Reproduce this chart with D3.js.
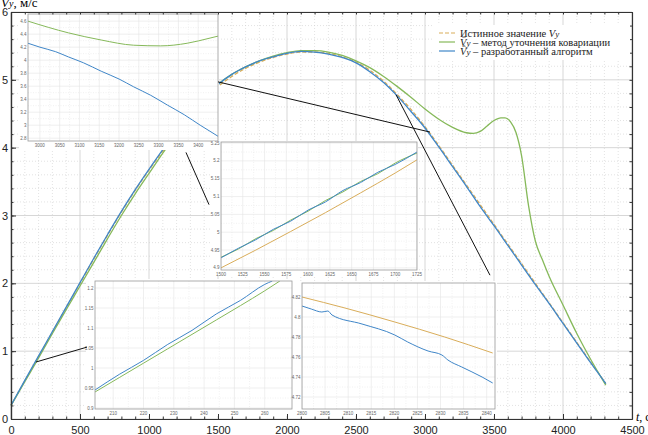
<!DOCTYPE html>
<html>
<head>
<meta charset="UTF-8">
<title>Vy</title>
<style>
  body { margin: 0; background: #fff; }
  svg { display: block; font-family: 'Liberation Sans', Arial, sans-serif; }
  .grid-major line { stroke: #cdcdcd; stroke-width: 0.8; }
  .grid-minor line { stroke: #cfcfcf; stroke-width: 0.6; stroke-dasharray: 1,2; }
  .axis path, .axis line { stroke: #333; }
  .axis text { font-size: 11px; fill: #222; }
  .inset text { font-size: 4.5px; fill: #666; }
  .legend text { font-family: 'Liberation Serif', serif; font-size: 10.5px; fill: #222; }
  .connector { stroke: #111; stroke-width: 1; }
</style>
</head>
<body>
<script src="https://cdnjs.cloudflare.com/ajax/libs/d3/7.8.5/d3.min.js"></script>
<script>
/// data (main plot)
var tMain = [0,100,200,300,400,500,600,700,800,900,1000,1100,1200,1300,1400,1500,1600,1700,1800,1900,2000,
             2100,2200,2300,2400,2500,2600,2700,2800,2900,3000,3100,3200,3300,3400,3500,3600,3700,3800,3900,
             4000,4100,4200,4300,4310];
var vTrue = [0.20,0.56,0.92,1.28,1.64,2.00,2.36,2.71,3.05,3.37,3.67,3.95,4.22,4.47,4.70,4.90,5.05,5.17,5.26,5.33,5.38,
             5.41,5.41,5.39,5.34,5.26,5.14,4.98,4.78,4.56,4.31,4.03,3.74,3.45,3.16,2.87,2.58,2.29,2.00,1.71,
             1.42,1.13,0.84,0.55,0.52];
var vBlue = [0.20,0.57,0.93,1.29,1.65,2.01,2.37,2.72,3.06,3.38,3.68,3.97,4.24,4.49,4.72,4.93,5.08,5.19,5.28,5.34,5.39,
             5.42,5.41,5.38,5.33,5.25,5.12,4.96,4.76,4.53,4.29,4.01,3.72,3.43,3.13,2.85,2.56,2.27,1.98,1.70,
             1.41,1.12,0.83,0.55,0.52];
var tGreen = [0,100,200,300,400,500,600,700,800,900,1000,1100,1200,1300,1400,1500,1600,1700,1800,1900,2000,
              2100,2200,2300,2400,2500,2600,2700,2800,2900,3000,3100,3200,3300,3350,3400,3450,3500,3550,3580,
              3620,3660,3700,3750,3800,3850,3900,4000,4100,4200,4310];
var vGreen = [0.20,0.55,0.90,1.26,1.61,1.96,2.31,2.66,3.00,3.32,3.62,3.92,4.20,4.46,4.70,4.93,5.08,5.19,5.28,5.35,5.40,
              5.43,5.43,5.41,5.36,5.28,5.18,5.05,4.90,4.74,4.57,4.42,4.30,4.22,4.21,4.24,4.32,4.40,4.44,4.44,
              4.38,4.22,3.88,3.15,2.62,2.35,2.10,1.68,1.26,0.88,0.50];

var xTickLabels = [0,500,1000,1500,2000,2500,3000,3500,4000,4500];
var yTickLabels = [0,1,2,3,4,5,6];

// connector lines, main-plot units [t1, v1, t2, v2]
var connectors = [[181,0.84,551,1.06],[1268,3.93,1435,3.16],[1500,4.97,3036,4.23],[2790,4.78,3471,2.12]];

/// data (insets)
var aTicksX = [3000,3050,3100,3150,3200,3250,3300,3350,3400];
var aTicksY = [2.8,3,3.2,3.4,3.6,3.8,4,4.2,4.4,4.6];
var aTGreen = [2970,3072,3155,3237,3305,3372,3430,3450];
var aVGreen = [4.60,4.42,4.31,4.23,4.22,4.26,4.34,4.37];
var aTBlue = [2970,3000,3040,3072,3110,3155,3200,3237,3280,3322,3365,3405,3450];
var aVBlue = [4.26,4.20,4.13,4.05,3.96,3.83,3.71,3.59,3.46,3.31,3.16,3.00,2.83];

var bTicksX = [1500,1525,1550,1575,1600,1625,1650,1675,1700,1725];
var bTicksY = [4.9,4.95,5,5.05,5.1,5.15,5.2,5.25];
var bTTrue = [1500,1540,1580,1620,1660,1700,1725];
var bVTrue = [4.900,4.950,5.002,5.055,5.110,5.166,5.203];
var bTBlue = [1500,1520,1540,1560,1580,1600,1620,1640,1660,1680,1700,1725];
var bVBlue = [4.928,4.955,4.979,5.008,5.031,5.062,5.085,5.117,5.139,5.168,5.190,5.225];
var bVGreen = [4.930,4.953,4.982,5.005,5.034,5.059,5.089,5.113,5.142,5.164,5.194,5.222];

var cTicksX = [210,220,230,240,250,260];
var cTicksY = [0.9,0.95,1,1.05,1.1,1.15,1.2];
var cTBlue = [204,212,220,228,236,244,252,260,262.5];
var cVBlue = [0.945,0.984,1.019,1.059,1.094,1.135,1.169,1.209,1.2175];
var cTGreen = [204,212,220,228,236,244,252,260,265];
var cVGreen = [0.940,0.976,1.012,1.048,1.084,1.120,1.156,1.193,1.2175];

var dTicksX = [2800,2805,2810,2815,2820,2825,2830,2835,2840];
var dTicksY = [4.72,4.74,4.76,4.78,4.8,4.82];
var dTTrue = [2800,2809.3,2820.1,2830.9,2841.3];
var dVTrue = [4.820,4.809,4.795,4.780,4.764];
var dTBlue = [2800,2802,2804.3,2805.6,2806.5,2813,2820.1,2822.9,2827.3,2830.3,2831.6,2834.6,2839,2841.3];
var dVBlue = [4.811,4.808,4.805,4.806,4.802,4.793,4.782,4.775,4.766,4.762,4.757,4.750,4.740,4.734];

/// style
var cTrue = "#d9ad5a", cGreen = "#86b95a", cBlue = "#3f86c8";

function zip(t, v) { return t.map(function(d, i) { return [d, v[i]]; }); }

/// main
var svg = d3.select("body").append("svg").attr("width", 648).attr("height", 435);

var x = d3.scaleLinear().domain([0, 4500]).range([11, 632]);
var y = d3.scaleLinear().domain([0, 6]).range([419, 12]);

var xMinor = d3.range(0, 4501, 100), yMinor = d3.range(0, 31).map(function(d) { return d / 5; });

// grids
var gMinor = svg.append("g").attr("class", "grid-minor");
gMinor.selectAll(".vx").data(xMinor.filter(function(d) { return d % 500; })).enter().append("line")
  .attr("x1", function(d) { return x(d); }).attr("x2", function(d) { return x(d); })
  .attr("y1", y(0)).attr("y2", y(6));
gMinor.selectAll(".hy").data(yMinor.filter(function(d) { return Math.abs(d - Math.round(d)) > 1e-6; })).enter().append("line")
  .attr("y1", function(d) { return y(d); }).attr("y2", function(d) { return y(d); })
  .attr("x1", x(0)).attr("x2", x(4500));
var gMajor = svg.append("g").attr("class", "grid-major");
gMajor.selectAll(".vx").data(xTickLabels).enter().append("line")
  .attr("x1", function(d) { return x(d); }).attr("x2", function(d) { return x(d); })
  .attr("y1", y(0)).attr("y2", y(6));
gMajor.selectAll(".hy").data(yTickLabels).enter().append("line")
  .attr("y1", function(d) { return y(d); }).attr("y2", function(d) { return y(d); })
  .attr("x1", x(0)).attr("x2", x(4500));

// curves
var line = d3.line().x(function(d) { return x(d[0]); }).y(function(d) { return y(d[1]); }).curve(d3.curveMonotoneX);
svg.append("path").datum(zip(tMain, vTrue)).attr("d", line)
  .attr("fill", "none").attr("stroke", cTrue).attr("stroke-width", 1.3).attr("stroke-dasharray", "4,2");
svg.append("path").datum(zip(tGreen, vGreen)).attr("d", line)
  .attr("fill", "none").attr("stroke", cGreen).attr("stroke-width", 1.3);
svg.append("path").datum(zip(tMain, vBlue)).attr("d", line)
  .attr("fill", "none").attr("stroke", cBlue).attr("stroke-width", 1.3);

// insets
var insetCount = 0;
function drawInset(cfg, series) {
  var id = "clip" + (insetCount++);
  var gi = svg.append("g").attr("class", "inset");
  gi.append("rect").attr("x", cfg.bx).attr("y", cfg.by).attr("width", cfg.bw).attr("height", cfg.bh).attr("fill", "#fff");
  var ix = d3.scaleLinear().domain(cfg.xDomain).range([cfg.x0, cfg.x1]);
  var iy = d3.scaleLinear().domain(cfg.yDomain).range([cfg.y1, cfg.y0]);
  gi.append("clipPath").attr("id", id).append("rect")
    .attr("x", cfg.x0).attr("y", cfg.y0).attr("width", cfg.x1 - cfg.x0).attr("height", cfg.y1 - cfg.y0);

  // minor grid halfway between ticks
  var mx = [], my = [];
  for (var i = 0; i < cfg.xTicks.length - 1; i++) mx.push((cfg.xTicks[i] + cfg.xTicks[i + 1]) / 2);
  for (var j = 0; j < cfg.yTicks.length - 1; j++) my.push((cfg.yTicks[j] + cfg.yTicks[j + 1]) / 2);
  var gg = gi.append("g").attr("clip-path", "url(#" + id + ")");
  gg.selectAll(".mx").data(mx).enter().append("line")
    .attr("x1", ix).attr("x2", ix).attr("y1", cfg.y0).attr("y2", cfg.y1)
    .attr("stroke", "#e2e2e2").attr("stroke-width", 0.5).attr("stroke-dasharray", "1,1.5");
  gg.selectAll(".my").data(my).enter().append("line")
    .attr("y1", iy).attr("y2", iy).attr("x1", cfg.x0).attr("x2", cfg.x1)
    .attr("stroke", "#e2e2e2").attr("stroke-width", 0.5).attr("stroke-dasharray", "1,1.5");
  gg.selectAll(".gx").data(cfg.xTicks).enter().append("line")
    .attr("x1", ix).attr("x2", ix).attr("y1", cfg.y0).attr("y2", cfg.y1)
    .attr("stroke", "#e4e4e4").attr("stroke-width", 0.6);
  gg.selectAll(".gy").data(cfg.yTicks).enter().append("line")
    .attr("y1", iy).attr("y2", iy).attr("x1", cfg.x0).attr("x2", cfg.x1)
    .attr("stroke", "#e4e4e4").attr("stroke-width", 0.6);

  var il = d3.line().x(function(d) { return ix(d[0]); }).y(function(d) { return iy(d[1]); }).curve(d3.curveMonotoneX);
  series.forEach(function(s) {
    gg.append("path").datum(s.data).attr("d", il).attr("fill", "none")
      .attr("stroke", s.color).attr("stroke-width", 1)
      .attr("stroke-dasharray", s.dash || null);
  });

  gi.append("rect").attr("x", cfg.x0).attr("y", cfg.y0).attr("width", cfg.x1 - cfg.x0).attr("height", cfg.y1 - cfg.y0)
    .attr("fill", "none").attr("stroke", "#9a9a9a").attr("stroke-width", 0.8);
  gi.selectAll(".lx").data(cfg.xTicks).enter().append("text")
    .attr("x", ix).attr("y", cfg.y1 + 5.5).attr("text-anchor", "middle").text(function(d) { return d; });
  gi.selectAll(".ly").data(cfg.yTicks).enter().append("text")
    .attr("x", cfg.x0 - 1.5).attr("y", function(d) { return iy(d) + 1.5; }).attr("text-anchor", "end")
    .text(function(d) { return d; });
}

drawInset({bx: 19, by: 13, bw: 200, bh: 137, x0: 28, x1: 218, y0: 14, y1: 141,
           xDomain: [2970, 3450], yDomain: [2.757, 4.71], xTicks: aTicksX, yTicks: aTicksY},
  [{data: zip(aTGreen, aVGreen), color: cGreen}, {data: zip(aTBlue, aVBlue), color: cBlue}]);

drawInset({bx: 211, by: 141, bw: 207, bh: 135, x0: 221, x1: 417, y0: 142, y1: 270,
           xDomain: [1500, 1725], yDomain: [4.894, 5.253], xTicks: bTicksX, yTicks: bTicksY},
  [{data: zip(bTTrue, bVTrue), color: cTrue}, {data: zip(bTBlue, bVGreen), color: cGreen},
   {data: zip(bTBlue, bVBlue), color: cBlue}]);

drawInset({bx: 86, by: 279, bw: 207, bh: 137, x0: 95, x1: 292, y0: 281, y1: 409,
           xDomain: [204, 269], yDomain: [0.8975, 1.2175], xTicks: cTicksX, yTicks: cTicksY},
  [{data: zip(cTGreen, cVGreen), color: cGreen}, {data: zip(cTBlue, cVBlue), color: cBlue}]);

drawInset({bx: 293, by: 281, bw: 204, bh: 135, x0: 302, x1: 495, y0: 283, y1: 409,
           xDomain: [2800, 2841.8], yDomain: [4.708, 4.834], xTicks: dTicksX, yTicks: dTicksY},
  [{data: zip(dTTrue, dVTrue), color: cTrue}, {data: zip(dTBlue, dVBlue), color: cBlue}]);

// connectors
svg.append("g").selectAll("line").data(connectors).enter().append("line").attr("class", "connector")
  .attr("x1", function(d) { return x(d[0]); }).attr("y1", function(d) { return y(d[1]); })
  .attr("x2", function(d) { return x(d[2]); }).attr("y2", function(d) { return y(d[3]); });

// axes (ticks inside the box)
var fmt = d3.format("d");
svg.append("g").attr("class", "axis").attr("transform", "translate(0," + y(0) + ")")
  .call(d3.axisBottom(x).tickValues(xMinor).tickSize(-2.5).tickFormat("").tickSizeOuter(0));
svg.append("g").attr("class", "axis").attr("transform", "translate(0," + y(0) + ")")
  .call(d3.axisBottom(x).tickValues(xTickLabels).tickFormat(fmt).tickSize(-5).tickPadding(7).tickSizeOuter(0));
svg.append("g").attr("class", "axis").attr("transform", "translate(" + x(0) + ",0)")
  .call(d3.axisLeft(y).tickValues(yMinor).tickSize(-2.5).tickFormat("").tickSizeOuter(0));
svg.append("g").attr("class", "axis").attr("transform", "translate(" + x(0) + ",0)")
  .call(d3.axisLeft(y).tickValues(yTickLabels).tickFormat(fmt).tickSize(-5).tickPadding(3).tickSizeOuter(0));
svg.append("g").attr("class", "axis").attr("transform", "translate(0," + y(6) + ")")
  .call(d3.axisTop(x).tickValues(xMinor).tickSize(-2.5).tickFormat("").tickSizeOuter(0));
svg.append("g").attr("class", "axis").attr("transform", "translate(" + x(4500) + ",0)")
  .call(d3.axisRight(y).tickValues(yMinor).tickSize(-2.5).tickFormat("").tickSizeOuter(0));
svg.selectAll(".axis path").attr("stroke-width", 1.2);

// axis titles
var yt = svg.append("text").attr("x", 1).attr("y", 7)
  .style("font-family", "'Liberation Serif', serif").style("font-size", "13px");
yt.append("tspan").style("font-style", "italic").text("V");
yt.append("tspan").style("font-style", "italic").style("font-size", "10px").text("y");
yt.append("tspan").text(", м/с");
var xt = svg.append("text").attr("x", 636).attr("y", 421)
  .style("font-family", "'Liberation Serif', serif").style("font-size", "12px");
xt.append("tspan").style("font-style", "italic").text("t");
xt.append("tspan").text(", с");

// legend
var legendItems = [
  {pre: "Истинное значение ", sym: "V", post: "", color: cTrue, dash: "4,2"},
  {pre: "", sym: "V\u0302", post: " – метод уточнения ковариации", color: cGreen},
  {pre: "", sym: "V\u0302", post: " – разработанный алгоритм", color: cBlue}
];
var lg = svg.append("g").attr("class", "legend");
lg.append("rect").attr("x", 433).attr("y", 25).attr("width", 197).attr("height", 35).attr("fill", "#fff");
legendItems.forEach(function(it, i) {
  var ly = 33 + i * 9;
  lg.append("line").attr("x1", 439).attr("x2", 455).attr("y1", ly).attr("y2", ly)
    .attr("stroke", it.color).attr("stroke-width", 1.2).attr("stroke-dasharray", it.dash || null);
  var tx = lg.append("text").attr("x", 460).attr("y", ly + 3.5);
  if (it.pre) tx.append("tspan").text(it.pre);
  tx.append("tspan").style("font-style", "italic").text(it.sym);
  tx.append("tspan").style("font-style", "italic").style("font-size", "9px").text("y");
  if (it.post) tx.append("tspan").text(it.post);
});
</script>
</body>
</html>
